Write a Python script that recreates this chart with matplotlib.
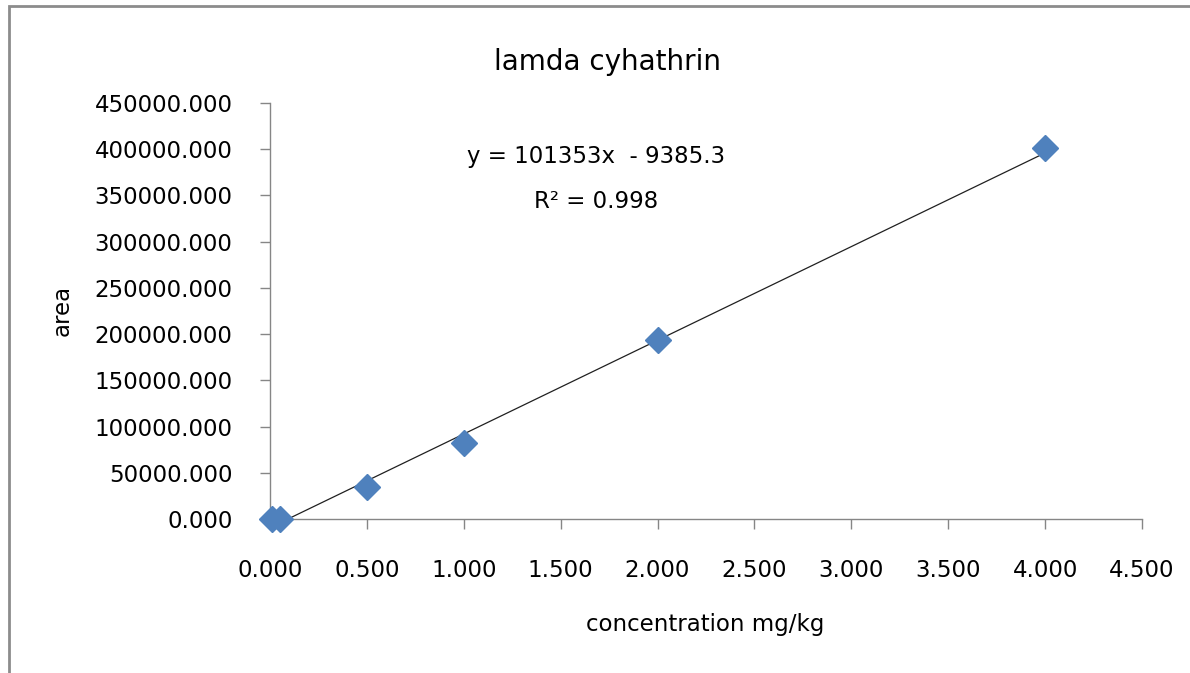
import matplotlib
matplotlib.use("Agg")
import matplotlib.pyplot as plt
import numpy as np

# Calibration data: concentration (mg/kg) vs. peak area
concentration = [0.01, 0.05, 0.5, 1.0, 2.0, 4.0]
area = [0, 0, 34600, 82250, 193700, 401500]

# Linear trendline coefficients
slope = 101353
intercept = -9385.3
r_squared = 0.998

x_ticks = [0.0, 0.5, 1.0, 1.5, 2.0, 2.5, 3.0, 3.5, 4.0, 4.5]
y_ticks = [0, 50000, 100000, 150000, 200000, 250000, 300000, 350000, 400000, 450000]

plt.rcParams['font.family'] = ['DejaVu Sans']

W, H = 1190, 673
fig = plt.figure(figsize=(W / 100, H / 100), dpi=100)
ax = fig.add_axes([270 / W, 1 - 519 / H, (1142 - 270) / W, (519 - 103) / H])

axis_grey = '#868686'

# trendline across the data range (clipped at the axes)
xl = np.array([min(concentration), max(concentration)])
ax.plot(xl, slope * xl + intercept, color='#202020', lw=0.9, zorder=2)

ax.plot(concentration, area, linestyle='none', marker='D', markersize=13.5,
        color='#4F81BD', markeredgecolor='#4F81BD', zorder=3, clip_on=False)

ax.set_xlim(0, 4.5)
ax.set_ylim(0, 450000)
ax.set_xticks(x_ticks)
ax.set_yticks(y_ticks)
ax.set_xticklabels([f"{v:.3f}" for v in x_ticks])
ax.set_yticklabels([f"{v:.3f}" for v in y_ticks])

for side in ('top', 'right'):
    ax.spines[side].set_visible(False)
for side in ('left', 'bottom'):
    ax.spines[side].set_color(axis_grey)
    ax.spines[side].set_linewidth(1.0)

ax.tick_params(axis='both', direction='out', length=7, width=1.0,
               color=axis_grey, labelsize=16.5, labelcolor='black')
ax.tick_params(axis='y', pad=20)
ax.tick_params(axis='x', pad=22)

fig.text(62 / W, 1 - 310 / H, 'area', rotation=90, ha='center', va='center', fontsize=16.5)
fig.text(705 / W, 1 - 625 / H, 'concentration mg/kg', ha='center', va='center', fontsize=16.5)
fig.text(607 / W, 1 - 62 / H, 'lamda cyhathrin', ha='center', va='center', fontsize=20)

fig.text(596 / W, 1 - 157 / H, f"y = {slope}x  - {abs(intercept)}",
         ha='center', va='center', fontsize=16.5)
fig.text(596 / W, 1 - 201 / H, f"R² = {r_squared}",
         ha='center', va='center', fontsize=16.5)

# outer chart border
border = plt.Rectangle((9 / W, -0.05), 1.2, 1 - 6 / H + 0.05, transform=fig.transFigure,
                       fill=False, edgecolor='#8c8c8c', linewidth=2.0)
fig.patches.append(border)

fig.savefig('out.png', dpi=100)
